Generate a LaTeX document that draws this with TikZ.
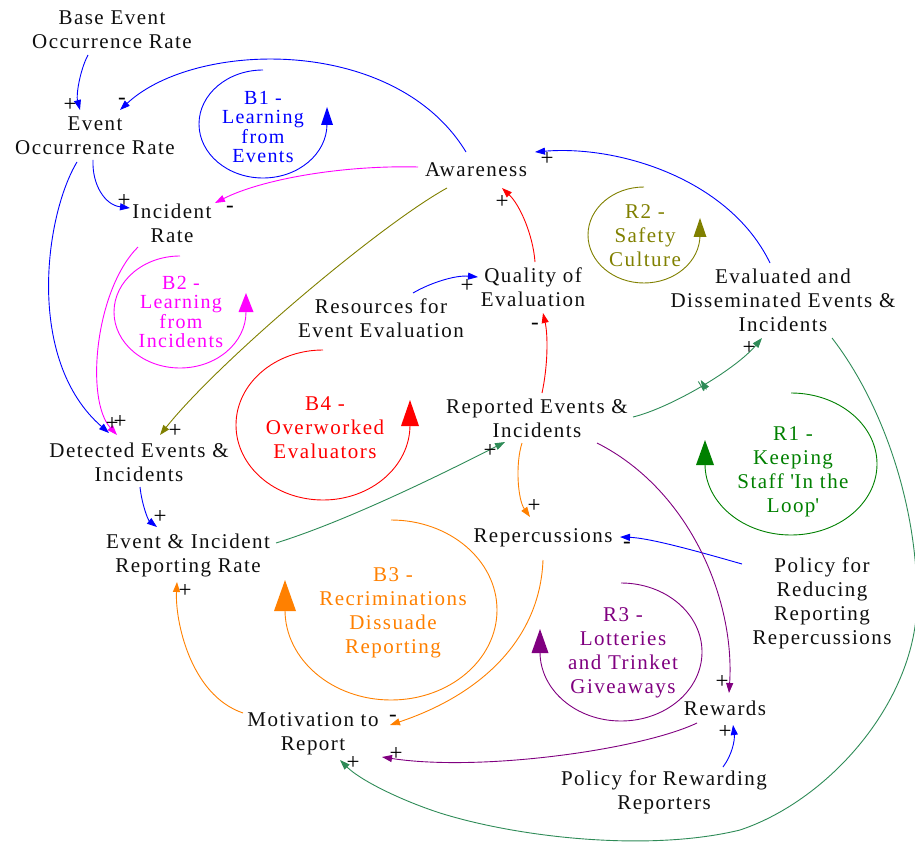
\documentclass[tikz,border=0pt]{standalone}
\usepackage{fontspec}
\setmainfont{Liberation Serif}[LetterSpace=7]
\usetikzlibrary{arrows.meta,decorations.markings}

\definecolor{cblue}{RGB}{0,0,255}
\definecolor{cmag}{RGB}{255,0,255}
\definecolor{colive}{RGB}{128,128,0}
\definecolor{cred}{RGB}{255,0,0}
\definecolor{cgreen}{RGB}{46,139,87}
\definecolor{cdgreen}{RGB}{0,128,0}
\definecolor{corange}{RGB}{255,128,0}
\definecolor{cpurple}{RGB}{128,0,128}
\definecolor{ctext}{RGB}{15,15,15}

\tikzset{
  var/.style={inner sep=0pt, align=center, text=ctext, font=\fontsize{21}{24}\selectfont},
  looplbl/.style={inner sep=0pt, align=center, font=\fontsize{21}{24}\selectfont},
  tightlbl/.style={inner sep=0pt, align=center, font=\fontsize{20}{19.2}\selectfont},
  sgn/.style={inner sep=0pt, text=black, font=\fontsize{23}{23}\selectfont},
  link/.style={line width=0.9pt, -{Triangle[length=10pt,width=7pt]}},
  loopline/.style={line width=0.9pt},
  delaymark/.style={postaction={decorate, decoration={markings,
      mark=at position 0.5 with {\draw[line width=0.9pt] (-1.4pt,-5.5pt)--(-1.4pt,5.5pt) (1.4pt,-5.5pt)--(1.4pt,5.5pt);}}}}
}

\begin{document}
\begin{tikzpicture}[x=1pt,y=-1pt]
\useasboundingbox (0,0) rectangle (915,842);

% variables
\node[var] (base) at (112,30)  {Base Event\\Occurrence Rate};
\node[var] (eor)  at (95,136)  {Event\\Occurrence Rate};
\node[var] (ir)   at (172,223) {Incident\\Rate};
\node[var] (aw)   at (476,170) {Awareness};
\node[var] (qe)   at (533,287) {Quality of\\Evaluation};
\node[var] (res)  at (381,318) {Resources for\\Event Evaluation};
\node[var] (ede)  at (783,300) {Evaluated and\\Disseminated Events \&\\Incidents};
\node[var] (rep)  at (537,418) {Reported Events \&\\Incidents};
\node[var] (det)  at (139,462) {Detected Events \&\\Incidents};
\node[var] (eirr) at (188,555) {Event \& Incident\\Reporting Rate};
\node[var] (repc) at (543,538) {Repercussions};
\node[var] (prr)  at (822,603) {Policy for\\Reducing\\Reporting\\Repercussions};
\node[var] (rew)  at (725,708) {Rewards};
\node[var] (prw)  at (664,792) {Policy for Rewarding\\Reporters};
\node[var] (mot)  at (313,734) {Motivation to\\Report};

% loop labels
\node[tightlbl,text=cblue]   (b1) at (263,127) {B1 -\\Learning\\from\\Events};
\node[tightlbl,text=cmag]    (b2) at (181,312) {B2 -\\Learning\\from\\Incidents};
\node[looplbl,text=corange]  (b3) at (393,613) {B3 -\\Recriminations\\Dissuade\\Reporting};
\node[looplbl,text=cred]     (b4) at (325,428) {B4 -\\Overworked\\Evaluators};
\node[looplbl,text=cdgreen]  (r1) at (793,472) {R1 -\\Keeping\\Staff \textquotesingle In the\\Loop\textquotesingle};
\node[looplbl,text=colive]   (r2) at (645,236) {R2 -\\Safety\\Culture};
\node[looplbl,text=cpurple]  (r3) at (623,653) {R3 -\\Lotteries\\and Trinket\\Giveaways};

% loop arcs with their direction arrowheads
\draw[loopline,cblue] (263,124) ++(90:64pt and 54pt) arc[start angle=90,end angle=360,x radius=64pt,y radius=54pt];
\fill[cblue] (321,125) -- (327,107) -- (333,125) -- cycle;
\draw[loopline,cmag] (180,312) ++(90:66pt and 56pt) arc[start angle=90,end angle=360,x radius=66pt,y radius=56pt];
\fill[cmag] (238.5,312) -- (246,293) -- (253.5,312) -- cycle;
\draw[loopline,corange] (391,610) ++(90:106pt and 90pt) arc[start angle=90,end angle=-180,x radius=106pt,y radius=90pt];
\fill[corange] (274,611) -- (285,580) -- (296,611) -- cycle;
\draw[loopline,cred] (323,425) ++(90:87pt and 75pt) arc[start angle=90,end angle=360,x radius=87pt,y radius=75pt];
\fill[cred] (401,426) -- (410,400) -- (419,426) -- cycle;
\draw[loopline,cdgreen] (791,464) ++(90:86pt and 71pt) arc[start angle=90,end angle=-180,x radius=86pt,y radius=71pt];
\fill[cdgreen] (696,465) -- (705,440) -- (714,465) -- cycle;
\draw[loopline,colive] (644,235) ++(90:56pt and 48pt) arc[start angle=90,end angle=360,x radius=56pt,y radius=48pt];
\fill[colive] (693.5,237) -- (700,218) -- (706.5,237) -- cycle;
\draw[loopline,cpurple] (621,652) ++(90:81pt and 69pt) arc[start angle=90,end angle=-180,x radius=81pt,y radius=69pt];
\fill[cpurple] (531.5,653) -- (540,629) -- (548.5,653) -- cycle;

% causal links
\draw[link,cblue] ([shift={(-24,25)}]base.center) .. controls (80,70) and (76,95) .. ([shift={(-15,-26)}]eor.center);
\draw[link,cblue] ([shift={(-10,-18)}]aw.center) .. controls (395,35) and (195,40) .. ([shift={(25,-26)}]eor.center);
\draw[link,cblue] ([shift={(-2,24)}]eor.center) .. controls (92,185) and (105,205) .. ([shift={(-42,-15)}]ir.center);
\draw[link,cmag] ([shift={(-58,-3)}]aw.center) .. controls (340,165) and (260,180) .. ([shift={(43,-20)}]ir.center);
\draw[link,cblue] ([shift={(-18,26)}]eor.center) .. controls (45,215) and (25,360) .. ([shift={(-30,-29)}]det.center);
\draw[link,cmag] ([shift={(-34,24)}]ir.center) .. controls (95,290) and (85,400) .. ([shift={(-22,-27)}]det.center);
\draw[link,colive] ([shift={(-29,18)}]aw.center) .. controls (380,225) and (220,360) .. ([shift={(21,-27)}]det.center);
\draw[link,cblue] ([shift={(32,-25)}]res.center) .. controls (430,283) and (455,275) .. ([shift={(-55,-10)}]qe.center);
\draw[link,cred] ([shift={(2,-25)}]qe.center) .. controls (533,235) and (520,205) .. ([shift={(26,18)}]aw.center);
\draw[link,cred] ([shift={(5,-25)}]rep.center) .. controls (548,365) and (548,335) .. ([shift={(10,26)}]qe.center);
\draw[link,cblue] ([shift={(-13,-37)}]ede.center) .. controls (730,180) and (620,145) .. ([shift={(59,-18)}]aw.center);
\draw[link,cgreen,delaymark] ([shift={(96,-1)}]rep.center) .. controls (670,408) and (735,370) .. ([shift={(-21,38)}]ede.center);
\draw[link,cblue] ([shift={(1,25)}]det.center) .. controls (142,505) and (148,520) .. ([shift={(-31,-28)}]eirr.center);
\draw[link,cgreen] ([shift={(88,-12)}]eirr.center) .. controls (350,520) and (450,470) .. ([shift={(-32,24)}]rep.center);
\draw[link,corange] ([shift={(-15,25)}]rep.center) .. controls (515,465) and (518,500) .. ([shift={(-13,-21)}]repc.center);
\draw[link,cblue] ([shift={(-80,-39)}]prr.center) .. controls (700,552) and (650,538) .. ([shift={(77,-1)}]repc.center);
\draw[link,corange] ([shift={(0,22)}]repc.center) .. controls (540,640) and (480,695) .. ([shift={(77,-9)}]mot.center);
\draw[link,corange] ([shift={(-70,-21)}]mot.center) .. controls (190,695) and (175,620) .. ([shift={(-11,27)}]eirr.center);
\draw[link,cpurple] ([shift={(60,25)}]rep.center) .. controls (690,490) and (735,600) .. ([shift={(4,-15)}]rew.center);
\draw[link,cpurple] ([shift={(-28,15)}]rew.center) .. controls (640,750) and (480,772) .. ([shift={(69,23)}]mot.center);
\draw[link,cblue] ([shift={(59,-25)}]prw.center) .. controls (732,755) and (735,740) .. ([shift={(8,17)}]rew.center);
\draw[link,cgreen] ([shift={(49,38)}]ede.center) .. controls (880,400) and (917,500) .. (917,600)
  .. controls (917,700) and (830,800) .. (740,830)
  .. controls (650,852) and (520,838) .. (440,813)
  .. controls (400,800) and (360,780) .. ([shift={(27,26)}]mot.center);

% link polarities
\node[sgn] (s1)  at (70,105)  {+};
\node[sgn] (s2)  at (122,101) {-};
\node[sgn] (s3)  at (124,201) {+};
\node[sgn] (s4)  at (230,209) {-};
\node[sgn] (s5)  at (112,424) {+};
\node[sgn] (s6)  at (120,422) {+};
\node[sgn] (s7)  at (175,431) {+};
\node[sgn] (s8)  at (467,286) {+};
\node[sgn] (s9)  at (502,202) {+};
\node[sgn] (s10) at (535,326) {-};
\node[sgn] (s11) at (547,159) {+};
\node[sgn] (s12) at (749,348) {+};
\node[sgn] (s13) at (160,517) {+};
\node[sgn] (s14) at (490,451) {+};
\node[sgn] (s15) at (534,506) {+};
\node[sgn] (s16) at (627,545) {-};
\node[sgn] (s17) at (393,718) {-};
\node[sgn] (s18) at (185,591) {+};
\node[sgn] (s19) at (722,682) {+};
\node[sgn] (s20) at (396,754) {+};
\node[sgn] (s21) at (725,732) {+};
\node[sgn] (s22) at (353,763) {+};
\end{tikzpicture}
\end{document}
